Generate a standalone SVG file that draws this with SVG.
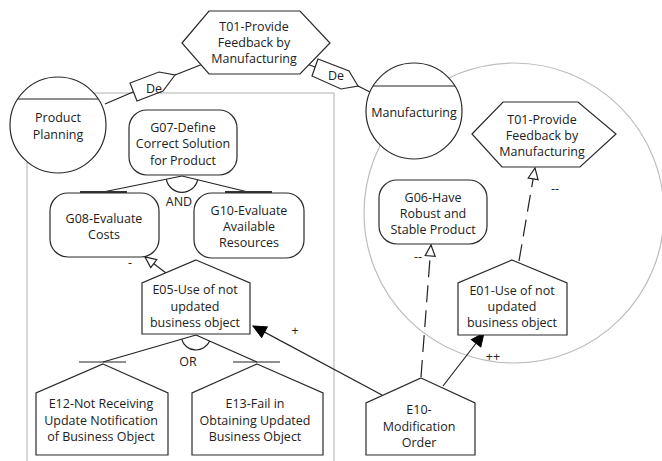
<svg xmlns="http://www.w3.org/2000/svg" width="662" height="461" viewBox="0 0 662 461">
<style>
.bound{fill:none;stroke:#bdbdbd;stroke-width:1.2}
.node{fill:#fff;stroke:#2a2a2a;stroke-width:1.2}
.ln{fill:none;stroke:#222;stroke-width:1.2}
.dash{fill:none;stroke:#222;stroke-width:1.2;stroke-dasharray:17,8}
.bar{stroke:#333;stroke-width:2.2}
text{font-family:"Open Sans","Noto Sans","DejaVu Sans",sans-serif;font-size:12.5px;fill:#222;text-anchor:middle}
</style>
<defs>
<marker id="hollow" markerUnits="userSpaceOnUse" markerWidth="14" markerHeight="12" viewBox="0 0 14 12" refX="12" refY="6" orient="auto">
<path d="M1,1 L12,6 L1,11 Z" fill="#fff" stroke="#222" stroke-width="1.2"/>
</marker>
<marker id="filled" markerUnits="userSpaceOnUse" markerWidth="16" markerHeight="14" viewBox="0 0 16 14" refX="14" refY="7" orient="auto">
<path d="M1,1 L14,7 L1,13 Z" fill="#000" stroke="#000" stroke-width="1"/>
</marker>
</defs>

<g id="boundaries">
<rect class="bound" x="27" y="93" width="307" height="380"/>
<circle class="bound" cx="514" cy="213" r="150"/>
</g>

<g id="connectors">
<line class="ln" x1="105" y1="104" x2="133" y2="92"/>
<polygon class="node" points="130,83 137,101 163,91 175,75 159,72"/>
<text x="154" y="93">De</text>
<line class="ln" x1="175" y1="75" x2="203" y2="64"/>
<line class="ln" x1="307" y1="64" x2="315" y2="67"/>
<polygon class="node" points="318,59 312,76 341,89 358,86 349,71"/>
<text x="336" y="80">De</text>
<line class="ln" x1="358" y1="86" x2="370" y2="92"/>
<line class="ln" x1="182" y1="176" x2="103" y2="192"/>
<line class="ln" x1="182" y1="176" x2="248" y2="192"/>
<path class="ln" d="M166.3,179.2 A16,16 0 0 0 197.7,179.6"/>
<line class="bar" x1="80" y1="192" x2="127" y2="192"/>
<line class="bar" x1="225" y1="192" x2="272" y2="192"/>
<text x="179" y="206">AND</text>
<line class="ln" x1="196" y1="335" x2="103" y2="362"/>
<line class="ln" x1="196" y1="335" x2="257" y2="362"/>
<path class="ln" d="M181.6,339.2 A15,15 0 0 0 209.7,341.1"/>
<line class="ln" x1="79" y1="362" x2="126" y2="362"/>
<line class="ln" x1="233" y1="362" x2="280" y2="362"/>
<text x="188" y="366">OR</text>
<line class="ln" x1="166" y1="273" x2="145" y2="257" marker-end="url(#hollow)"/>
<text x="130" y="267">-</text>
<line class="ln" x1="382" y1="395" x2="253" y2="326" marker-end="url(#filled)"/>
<text x="295" y="335">+</text>
<line class="ln" x1="443" y1="386" x2="484" y2="333" marker-end="url(#filled)"/>
<text x="493" y="361">++</text>
<line class="dash" x1="421" y1="377" x2="431" y2="245" marker-end="url(#hollow)"/>
<text x="418" y="261">--</text>
<line class="dash" x1="519" y1="261" x2="535" y2="168" marker-end="url(#hollow)"/>
<text x="555" y="193">--</text>
</g>

<g id="T01_top">
<polygon class="node" points="182,43 209,11 300,11 330,43 300,74 209,74"/>
<text x="254" y="31">T01-Provide</text>
<text x="254" y="47">Feedback by</text>
<text x="254" y="63">Manufacturing</text>
</g>

<g id="ProductPlanning">
<circle class="node" cx="58" cy="125" r="48"/>
<line class="ln" x1="18" y1="99" x2="98" y2="99"/>
<text x="58" y="122">Product</text>
<text x="58" y="139">Planning</text>
</g>

<g id="Manufacturing">
<circle class="node" cx="414" cy="111" r="48"/>
<line class="ln" x1="373" y1="86" x2="455" y2="86"/>
<text x="414" y="117">Manufacturing</text>
</g>

<g id="G07">
<rect class="node" x="129" y="110" width="108" height="65" rx="18"/>
<text x="183" y="132">G07-Define</text>
<text x="183" y="148">Correct Solution</text>
<text x="183" y="165">for Product</text>
</g>

<g id="G08">
<rect class="node" x="50" y="193" width="109" height="64" rx="18"/>
<text x="104" y="223">G08-Evaluate</text>
<text x="104" y="239">Costs</text>
</g>

<g id="G10">
<rect class="node" x="194" y="193" width="110" height="65" rx="18"/>
<text x="249" y="215">G10-Evaluate</text>
<text x="249" y="231">Available</text>
<text x="249" y="247">Resources</text>
</g>

<g id="E05">
<polygon class="node" points="196,260 250,283 250,334 142,334 142,283"/>
<text x="195" y="294">E05-Use of not</text>
<text x="195" y="311">updated</text>
<text x="195" y="327">business object</text>
</g>

<g id="E12">
<polygon class="node" points="103,364 168,393 168,455 36,455 36,393"/>
<text x="101" y="408">E12-Not Receiving</text>
<text x="101" y="425">Update Notification</text>
<text x="101" y="441">of Business Object</text>
</g>

<g id="E13">
<polygon class="node" points="257,364 323,393 323,455 192,455 192,393"/>
<text x="255" y="408">E13-Fail in</text>
<text x="255" y="425">Obtaining Updated</text>
<text x="255" y="441">Business Object</text>
</g>

<g id="E10">
<polygon class="node" points="421,378 475,403 475,455 366,455 366,403"/>
<text x="419" y="414">E10-</text>
<text x="419" y="431">Modification</text>
<text x="419" y="447">Order</text>
</g>

<g id="G06">
<rect class="node" x="379" y="180" width="108" height="64" rx="18"/>
<text x="433" y="202">G06-Have</text>
<text x="433" y="218">Robust and</text>
<text x="433" y="234">Stable Product</text>
</g>

<g id="T01_inner">
<polygon class="node" points="472,134 503,102 578,102 616,134 580,167 502,167"/>
<text x="542" y="124">T01-Provide</text>
<text x="542" y="140">Feedback by</text>
<text x="542" y="156">Manufacturing</text>
</g>

<g id="E01">
<polygon class="node" points="512,260 567,283 567,335 458,335 458,283"/>
<text x="512" y="295">E01-Use of not</text>
<text x="512" y="311">updated</text>
<text x="512" y="327">business object</text>
</g>
</svg>
